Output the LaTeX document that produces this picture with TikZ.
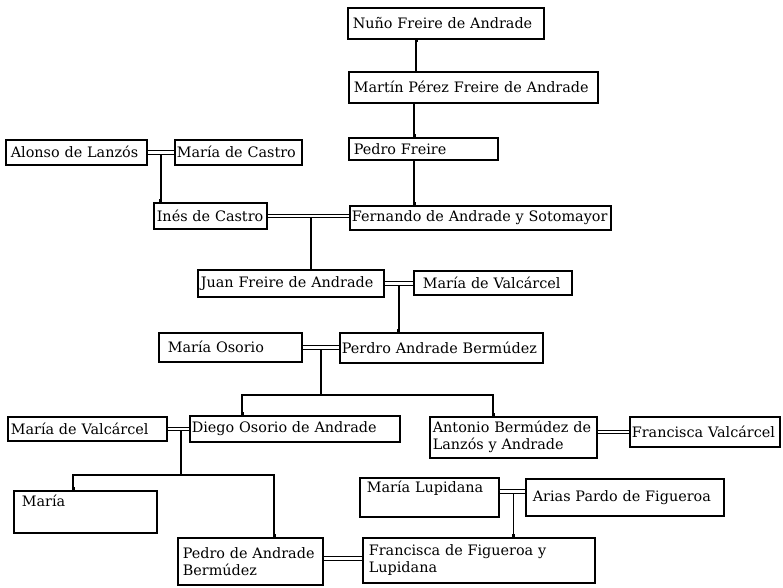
\documentclass[tikz,border=0pt]{standalone}
\usepackage{fontspec}
\setmainfont{DejaVu Serif}
\usetikzlibrary{calc,arrows.meta}
\begin{document}
\begin{tikzpicture}[x=1pt,y=-1pt,
  pbox/.style={draw, line width=1.6pt, anchor=north west, align=left, inner xsep=5pt, inner ysep=0pt,
    font=\fontsize{14.4pt}{17pt}\selectfont},
  marriage/.style={draw, line width=1pt, double, double distance=2.4pt},
  child/.style={draw, line width=1.6pt, -{Rectangle[length=2.6pt,width=3pt]}},
  stem/.style={draw, line width=1.6pt}]
\useasboundingbox (0,0) rectangle (783,587);
% boxes: (x,y) top-left
\node[pbox, text width=186pt, minimum height=31pt] (nuno) at (347,7) {Nuño Freire de Andrade};
\node[pbox, text width=239pt, minimum height=31pt] (martin) at (348,71) {Martín Pérez Freire de Andrade};
\node[pbox, text width=139pt, minimum height=22pt] (pedrof) at (348,137) {Pedro Freire};
\node[pbox, text width=131pt, minimum height=25pt] (alonso) at (5,139) {Alonso de Lanzós};
\node[pbox, text width=123pt, minimum height=25pt, inner xsep=2pt] (mcastro) at (174,139) {María de Castro};
\node[pbox, text width=107pt, minimum height=26pt, inner xsep=3pt] (ines) at (153,202) {Inés de Castro};
\node[pbox, text width=257pt, minimum height=24pt, inner xsep=2pt] (fernando) at (349,205) {Fernando de Andrade y Sotomayor};
\node[pbox, text width=180pt, minimum height=27pt, inner xsep=3pt] (juan) at (197,269) {Juan Freire de Andrade};
\node[pbox, text width=140pt, minimum height=24pt, inner xsep=9pt] (mvalcA) at (413,270) {María de Valcárcel};
\node[pbox, text width=125pt, minimum height=29pt, inner xsep=9pt] (mosorio) at (158,332) {María Osorio};
\node[pbox, text width=199pt, minimum height=30pt, inner xsep=2pt] (perdro) at (339,332) {Perdro Andrade Bermúdez};
\node[pbox, text width=206pt, minimum height=26pt, inner xsep=2pt] (diego) at (189,415) {Diego Osorio de Andrade};
\node[pbox, text width=161pt, minimum height=41pt, inner xsep=3pt] (antonio) at (429,416) {\mbox{Antonio Bermúdez de}\\Lanzós y Andrade};
\node[pbox, text width=146pt, minimum height=30pt, inner xsep=2pt] (fvalc) at (629,416) {Francisca Valcárcel};
\node[pbox, text width=153pt, minimum height=24pt, inner xsep=3pt] (mvalcB) at (7,416) {María de Valcárcel};
\node[pbox, text width=127pt, minimum height=42pt, inner xsep=8pt] (maria) at (13,490) {María\\\strut};
\node[pbox, text width=125pt, minimum height=39pt, inner xsep=7pt] (mlupi) at (359,477) {María Lupidana\\\strut};
\node[pbox, text width=184pt, minimum height=37pt, inner xsep=7pt] (arias) at (525,478) {Arias Pardo de Figueroa};
\node[pbox, text width=139pt, minimum height=47pt, inner xsep=3pt] (pedroab) at (177,537) {\mbox{\hspace{2pt}Pedro de Andrade}\\\hspace{2pt}Bermúdez};
\node[pbox, text width=220pt, minimum height=45pt, inner xsep=6pt] (ffig) at (362,537) {\mbox{Francisca de Figueroa y}\\Lupidana};
% direct descent
\coordinate (c1) at ([xshift=69pt]nuno.south west);
\coordinate (c2) at ([xshift=66pt]martin.south west);
\coordinate (c3) at ([xshift=66pt]pedrof.south west);
\draw[stem, {Rectangle[length=2.6pt,width=3pt]}-] (c1) -- (c1 |- martin.north);
\draw[child] (c2) -- (c2 |- pedrof.north);
\draw[child] (c3) -- (c3 |- fernando.north);
% marriages
\draw[marriage] (alonso.east) -- (mcastro.west);
\draw[marriage] (ines.east) -- (ines.east -| fernando.west);
\draw[marriage] (juan.east) -- (juan.east -| mvalcA.west);
\draw[marriage] (mosorio.east) -- (mosorio.east -| perdro.west);
\draw[marriage] (mvalcB.east) -- (mvalcB.east -| diego.west);
\draw[marriage] (fvalc.west -| antonio.east) -- (fvalc.west);
\draw[marriage] ([yshift=6pt]mlupi.east) -- ([yshift=6pt]mlupi.east -| arias.west);
\draw[marriage] ([yshift=3pt]pedroab.east) -- ([yshift=3pt]pedroab.east -| ffig.west);
% children of marriages
\coordinate (m1) at ($(alonso.east)!0.5!(mcastro.west)+(0,2.5)$);
\coordinate (m2) at ($(ines.east)!0.5!(ines.east -| fernando.west)+(2.5,2.5)$);
\coordinate (m3) at ($(juan.east)!0.5!(juan.east -| mvalcA.west)+(0,2.5)$);
\coordinate (m4) at ($(mosorio.east)!0.5!(mosorio.east -| perdro.west)+(0,2.5)$);
\coordinate (m5) at ($(mvalcB.east)!0.5!(mvalcB.east -| diego.west)+(2.5,2.5)$);
\coordinate (m6) at ($([yshift=6pt]mlupi.east)!0.5!([yshift=6pt]mlupi.east -| arias.west)+(1,2.5)$);
\draw[child] (m1) -- (m1 |- ines.north);
\draw[stem] (m2) -- (m2 |- juan.north);
\draw[child] (m3) -- (m3 |- perdro.north);
\draw[child] (m6) -- (m6 |- ffig.north);
% branching
\coordinate (b1) at ($(m4 |- diego.north)+(0,-20)$);
\coordinate (d1) at ([xshift=53pt]diego.north west);
\coordinate (a1) at ([xshift=64pt]antonio.north west);
\draw[stem] (m4) -- (b1);
\draw[child] (b1) -| (d1);
\draw[child] (b1) -| (a1);
\coordinate (b2) at ($(m5 |- maria.north)+(0,-15)$);
\coordinate (r1) at ([xshift=60pt]maria.north west);
\coordinate (p1) at ([xshift=97pt]pedroab.north west);
\draw[stem] (m5) -- (b2);
\draw[child] (b2) -| (r1);
\draw[child] (b2) -| (p1);
\end{tikzpicture}
\end{document}
